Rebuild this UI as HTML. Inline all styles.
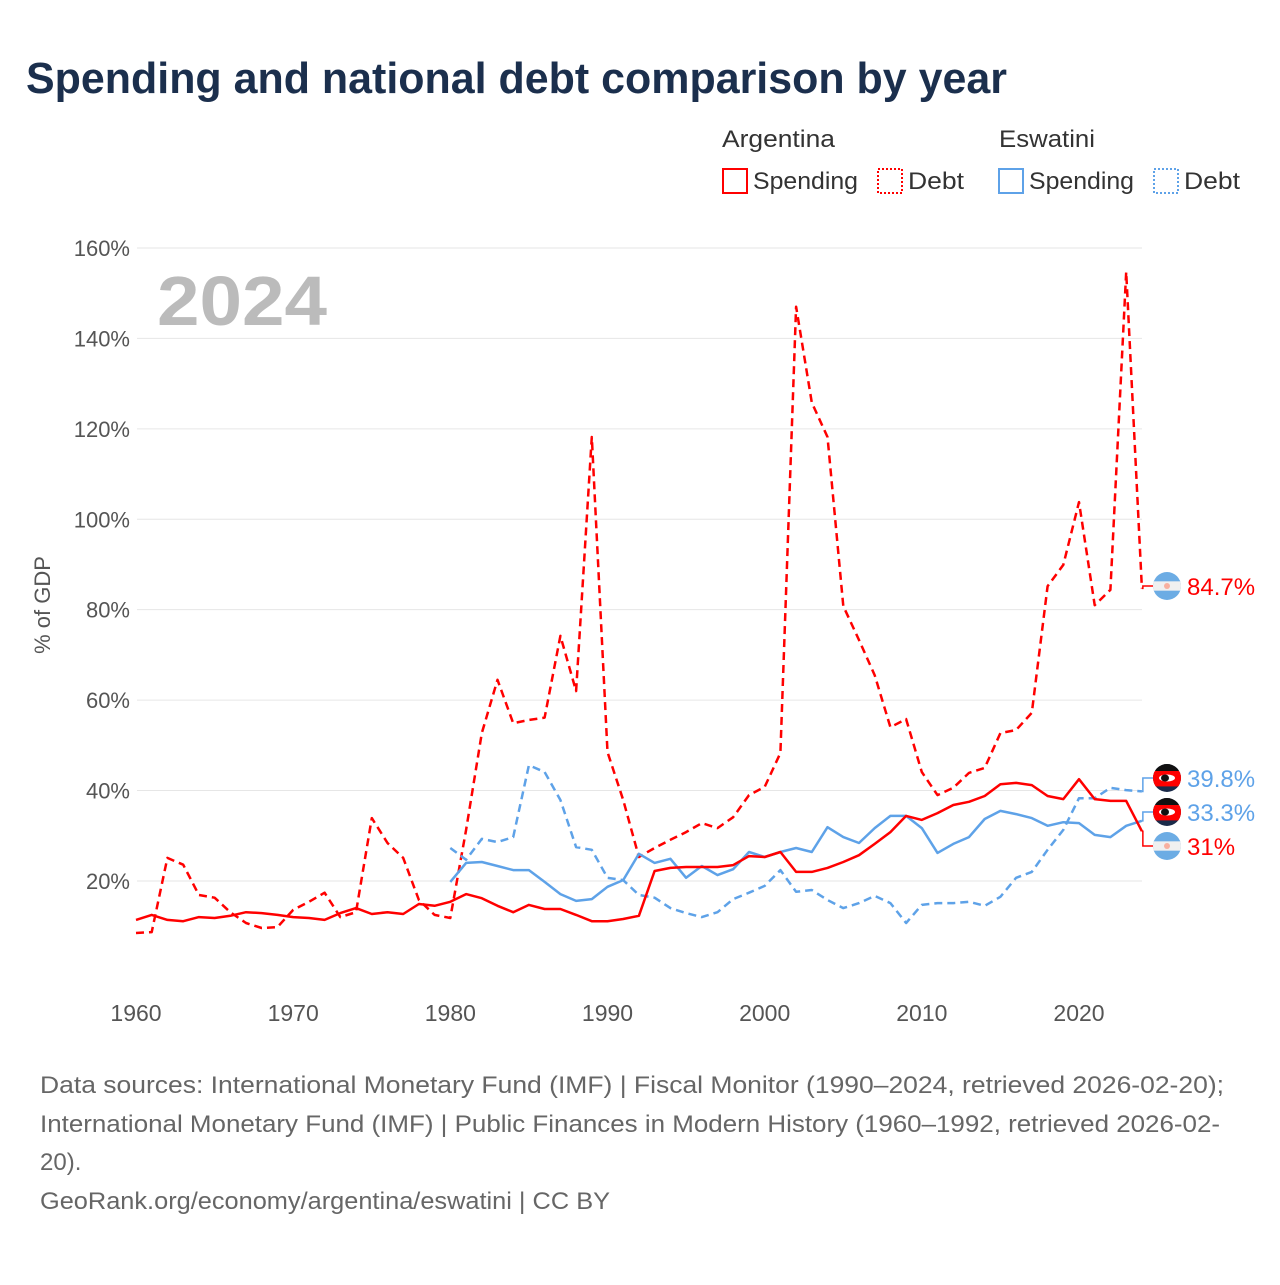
<!DOCTYPE html>
<html><head><meta charset="utf-8"><style>
html,body{margin:0;padding:0;background:#fff;}
body{width:1280px;height:1280px;overflow:hidden;font-family:"Liberation Sans",sans-serif;}
</style></head><body>
<svg id="chart" width="1280" height="1280" viewBox="0 0 1280 1280" xmlns="http://www.w3.org/2000/svg" font-family="Liberation Sans, sans-serif">
<rect width="1280" height="1280" fill="#fff"/>
<text x="26" y="93" font-size="44" font-weight="bold" fill="#1b2f4d" textLength="981" lengthAdjust="spacingAndGlyphs">Spending and national debt comparison by year</text>
<g font-size="24" fill="#333">
<text x="722" y="147" textLength="113" lengthAdjust="spacingAndGlyphs">Argentina</text>
<text x="999" y="147" textLength="96" lengthAdjust="spacingAndGlyphs">Eswatini</text>
<g><rect x="723" y="169" width="24" height="24" fill="none" stroke="#f00" stroke-width="2"/><text x="753" y="189" textLength="105" lengthAdjust="spacingAndGlyphs">Spending</text></g>
<g><rect x="878" y="169" width="24" height="24" fill="none" stroke="#f00" stroke-width="2" stroke-dasharray="2,2"/><text x="908" y="189" textLength="56" lengthAdjust="spacingAndGlyphs">Debt</text></g>
<g><rect x="999" y="169" width="24" height="24" fill="none" stroke="#5ea2e8" stroke-width="2"/><text x="1029" y="189" textLength="105" lengthAdjust="spacingAndGlyphs">Spending</text></g>
<g><rect x="1154" y="169" width="24" height="24" fill="none" stroke="#5ea2e8" stroke-width="2" stroke-dasharray="2,2"/><text x="1184" y="189" textLength="56" lengthAdjust="spacingAndGlyphs">Debt</text></g>
</g>
<g id="grid"></g>
<g id="yticks" font-size="22" fill="#555" text-anchor="end"></g>
<g id="xticks" font-size="23" fill="#555" text-anchor="middle"></g>
<text x="157" y="325" font-size="70" font-weight="bold" fill="#bbb" textLength="170" lengthAdjust="spacingAndGlyphs">2024</text>
<text transform="translate(50,605) rotate(-90)" font-size="22" fill="#555" text-anchor="middle">% of GDP</text>
<g id="series"></g>
<g id="endlabels"></g>
<g font-size="24" fill="#666">
<text x="40" y="1093" textLength="1184" lengthAdjust="spacingAndGlyphs">Data sources: International Monetary Fund (IMF) | Fiscal Monitor (1990–2024, retrieved 2026-02-20);</text>
<text x="40" y="1132" textLength="1180" lengthAdjust="spacingAndGlyphs">International Monetary Fund (IMF) | Public Finances in Modern History (1960–1992, retrieved 2026-02-</text>
<text x="40" y="1170">20).</text>
<text x="40" y="1209" textLength="570" lengthAdjust="spacingAndGlyphs">GeoRank.org/economy/argentina/eswatini | CC BY</text>
</g>
</svg>
<script>
const yTicks = [20, 40, 60, 80, 100, 120, 140, 160];
const xTicks = [1960, 1970, 1980, 1990, 2000, 2010, 2020];
const argYears0 = 1960;
const eswYears0 = 1980;
const argSpending = [11.4,12.5,11.4,11.1,12.0,11.8,12.3,13.1,12.9,12.5,12.0,11.8,11.4,12.9,14.0,12.7,13.1,12.7,14.9,14.5,15.4,17.1,16.2,14.5,13.1,14.7,13.8,13.8,12.5,11.1,11.1,11.6,12.3,22.2,22.9,23.1,23.1,23.1,23.5,25.5,25.3,26.4,22.0,22.0,22.9,24.2,25.7,28.2,30.8,34.4,33.5,35.0,36.8,37.5,38.8,41.4,41.7,41.2,38.8,38.1,42.5,38.1,37.7,37.7,31.0];
const argDebt = [8.5,8.7,25.1,23.6,16.9,16.3,13.1,10.7,9.6,9.8,13.6,15.4,17.4,12.0,13.1,33.9,28.4,25.1,15.8,12.5,11.8,31.3,52.7,64.5,54.9,55.6,56.1,74.2,62.0,118.2,48.5,37.9,25.3,27.3,29.1,30.8,32.8,31.7,34.1,39.0,40.8,48.3,147.0,125.8,118.2,80.8,73.3,65.5,54.0,55.8,44.1,39.0,40.6,43.9,45.0,52.7,53.4,57.2,85.2,89.9,103.8,81.0,84.4,154.7,84.7];
const eswSpending = [19.8,24.0,24.2,23.3,22.4,22.4,19.8,17.1,15.6,16.0,18.7,20.2,26.0,24.0,24.9,20.7,23.3,21.3,22.6,26.4,25.3,26.4,27.3,26.4,31.9,29.7,28.4,31.7,34.4,34.4,31.7,26.2,28.2,29.7,33.7,35.5,34.8,33.9,32.2,33.0,32.8,30.2,29.7,32.2,33.3];
const eswDebt = [27.3,24.7,29.3,28.6,29.7,45.6,44.1,37.9,27.5,26.9,20.7,20.2,16.9,16.3,14.0,12.9,12.0,13.1,16.0,17.4,18.9,22.4,17.6,18.0,15.8,14.0,15.1,16.7,15.1,10.7,14.7,15.1,15.1,15.4,14.5,16.5,20.7,22.0,26.9,31.3,38.3,38.3,40.6,40.1,39.8];
const NS='http://www.w3.org/2000/svg';
const X0=136, X1=1079, Y0=971.4, YPER=4.5215;
function xs(yr){return X0+(yr-1960)*(X1-X0)/60;}
function ys(v){return Y0-v*YPER;}
function mk(tag,attrs,parent){const e=document.createElementNS(NS,tag);for(const k in attrs)e.setAttribute(k,attrs[k]);parent.appendChild(e);return e;}
const grid=document.getElementById('grid'), yt=document.getElementById('yticks'), xt=document.getElementById('xticks');
yTicks.forEach(v=>{
  const l=mk('line',{x1:137,x2:1142,y1:ys(v),y2:ys(v),stroke:'#e6e6e6','stroke-width':1},grid);
  
  
  const t=mk('text',{x:130,y:ys(v)+8},yt); t.textContent=v+'%';
  
  
});
xTicks.forEach(yr=>{
  const t=mk('text',{x:xs(yr),y:1021},xt); t.textContent=yr;
  
  
});
const ser=document.getElementById('series');
function draw(arr,start,color,dash,name){
  const d=arr.map((v,i)=>(i?'L':'M')+xs(start+i).toFixed(1)+','+ys(v).toFixed(1)).join(' ');
  const p=mk('path',{d:d,fill:'none',stroke:color,'stroke-width':2.5,'stroke-linejoin':'round'},ser);
  if(dash)p.setAttribute('stroke-dasharray','8,5');
  
  
}
const RED='#f00', BLUE='#5ea2e8';
draw(argDebt,argYears0,RED,true,'line-argentina-debt');
draw(eswDebt,eswYears0,BLUE,true,'line-eswatini-debt');
draw(eswSpending,eswYears0,BLUE,false,'line-eswatini-spending');
draw(argSpending,argYears0,RED,false,'line-argentina-spending');
const el=document.getElementById('endlabels');
const labels=[
 {v:argDebt[argDebt.length-1],ly:586,c:RED,flag:'ar',n:'argentina-debt'},
 {v:eswDebt[eswDebt.length-1],ly:778,c:BLUE,flag:'sz',n:'eswatini-debt'},
 {v:eswSpending[eswSpending.length-1],ly:812,c:BLUE,flag:'sz',n:'eswatini-spending'},
 {v:argSpending[argSpending.length-1],ly:846,c:RED,flag:'ar',n:'argentina-spending'}
];
labels.forEach(L=>{
  const xe=xs(2024), ye=ys(L.v);
  const c=mk('path',{d:`M${xe},${ye} L${xe+1},${ye} L${xe+1},${L.ly} L1153,${L.ly}`,fill:'none',stroke:L.c,'stroke-width':1.5},el);
  
  
  const g=mk('g',{},el);
  
  
  const cx=1167, cy=L.ly, r=14;
  const cid='clip'+L.n;
  const cp=mk('clipPath',{id:cid},g); mk('circle',{cx:cx,cy:cy,r:r},cp);
  const gg=mk('g',{'clip-path':`url(#${cid})`},g);
  if(L.flag==='ar'){
    mk('rect',{x:cx-r,y:cy-r,width:2*r,height:2*r,fill:'#6cace4'},gg);
    mk('rect',{x:cx-r,y:cy-r/3,width:2*r,height:2*r/3,fill:'#f0f0f0'},gg);
    mk('circle',{cx:cx,cy:cy,r:3,fill:'#f8b0a0'},gg);
  } else {
    mk('rect',{x:cx-r,y:cy-r,width:2*r,height:2*r,fill:'#1a2b4a'},gg);
    mk('rect',{x:cx-r,y:cy-r,width:2*r,height:r*0.5,fill:'#111'},gg);
    mk('rect',{x:cx-r,y:cy-r*0.5,width:2*r,height:r*1.1,fill:'#f00'},gg);
    mk('ellipse',{cx:cx,cy:cy,rx:8,ry:3.5,fill:'#fff'},gg);
    mk('ellipse',{cx:cx-2,cy:cy,rx:4,ry:3.5,fill:'#111'},gg);
  }
  const t=mk('text',{x:1187,y:L.ly+9,'font-size':24,fill:L.c},el);
  t.textContent=(Math.round(L.v*10)/10)+'%';
  
  
});
</script>
</body></html>
